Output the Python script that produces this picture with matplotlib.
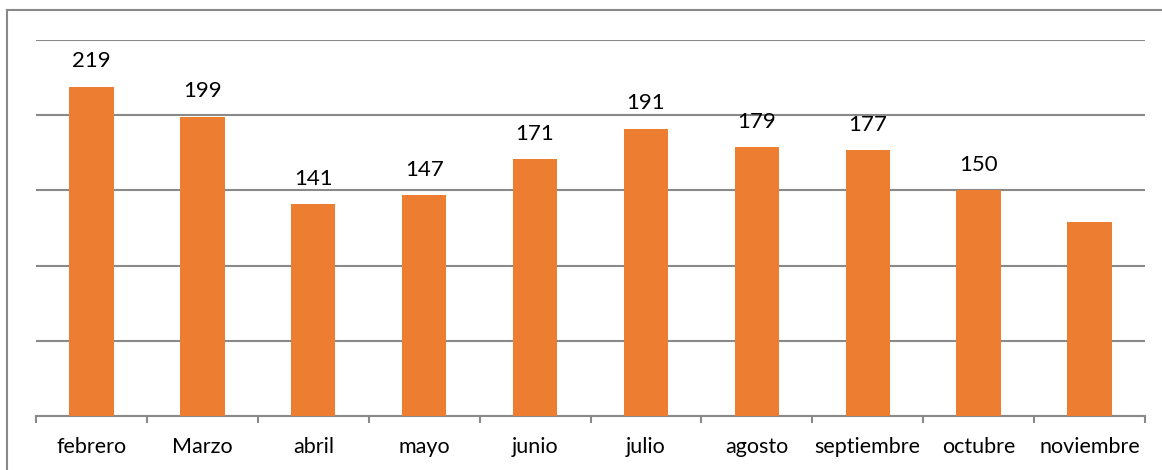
import numpy as np
import matplotlib.pyplot as plt
from matplotlib.lines import Line2D

meses = ["febrero", "Marzo", "abril", "mayo", "junio", "julio",
         "agosto", "septiembre", "octubre", "noviembre"]
valores = [219, 199, 141, 147, 171, 191, 179, 177, 150, 129]
# noviembre has no data label in the original
etiquetas = ["219", "199", "141", "147", "171", "191", "179", "177", "150", ""]

naranja = "#ED7D31"
gris = "#898989"

plt.rcParams['font.family'] = ['Lato', 'DejaVu Sans']

fig = plt.figure(figsize=(11.62, 4.70), dpi=100)
ax = fig.add_axes([36/1162, 1 - 416/470, (1145 - 36)/1162, (416 - 40)/470])

x = np.arange(len(meses))
bars = ax.bar(x, valores, width=0.40, color=naranja, zorder=3)

for b, t in zip(bars, etiquetas):
    if t:
        ax.annotate(t, (b.get_x() + b.get_width()/2, b.get_height()),
                    xytext=(0, 11), textcoords='offset points',
                    ha='center', va='bottom', fontsize=16, color='black')

ax.set_xlim(-0.5, len(meses) - 0.5)
ax.set_ylim(0, 250)
ax.set_yticks(np.arange(0, 251, 50))
ax.yaxis.grid(True, color=gris, linewidth=1.5, zorder=0)
ax.tick_params(axis='y', left=False, labelleft=False)

# category labels centered, ticks on boundaries
ax.set_xticks(x)
ax.set_xticklabels(meses, fontsize=15.5)
ax.tick_params(axis='x', length=0, pad=15)
ax.set_xticks(np.arange(-0.5, len(meses)), minor=True)
ax.tick_params(axis='x', which='minor', length=5, width=1.5, color=gris)

for s in ['top', 'right', 'left']:
    ax.spines[s].set_visible(False)
ax.spines['bottom'].set_color(gris)
ax.spines['bottom'].set_linewidth(1.5)

# outer frame (left and top edges)
fig.add_artist(Line2D([7/1162, 7/1162], [0, 1 - 10/470], color=gris, linewidth=1.5))
fig.add_artist(Line2D([7/1162, 1], [1 - 10/470, 1 - 10/470], color=gris, linewidth=1.5))

fig.savefig("out.png", dpi=100)
